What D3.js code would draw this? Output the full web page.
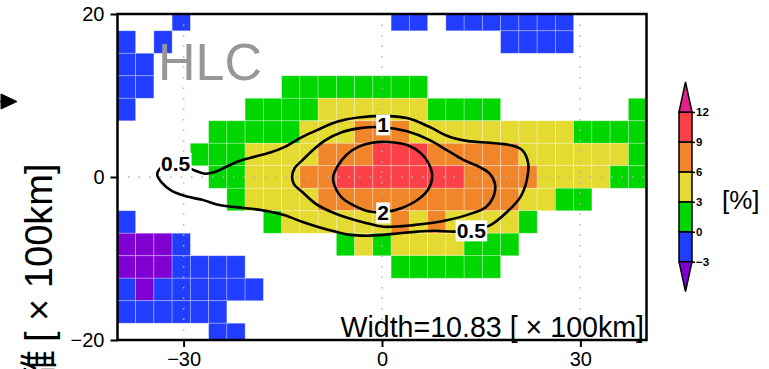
<!DOCTYPE html>
<meta charset="utf-8">
<script src="https://d3js.org/d3.v7.min.js"></script>
<style>
body { margin: 0; background: #fff; }
svg { display: block; font-family: Arial, "Liberation Sans", sans-serif; }
.axis text { font-size: 20px; fill: #000; }
.cbar text { font-size: 11.5px; font-weight: bold; fill: #000; }
</style>
<body>
<script>
var _ = null;

// grid cells are centred on multiples of cellSize (x100 km)
var cellSize = 2.76;
var colIndex = d3.range(-14, 15);      // west -> east
var rowIndex = d3.range(7, -8, -1);    // north -> south

// anomaly [%] per cell, rows top to bottom, columns left to right
var row7  = [_, _, _, -1.5, _,   _, _, _, _, _,   _, _, _, _, _,   -1.5, -1.5, _, -1.5, -1.5,   -1.5, -1.5, -1.5, -1.5, -1.5,   _, _, _, _];
var row6  = [-1.5, _, -1.5, _, _,   _, _, _, _, _,   _, _, _, _, _,   _, _, _, _, _,   _, -1.5, -1.5, -1.5, -1.5,   _, _, _, _];
var row5  = [-1.5, -1.5, _, _, _,   _, _, _, _, _,   _, _, _, _, _,   _, _, _, _, _,   _, _, _, _, _,   _, _, _, _];
var row4  = [-1.5, -1.5, _, _, _,   _, _, _, _, 1.5,   1.5, 1.5, 1.5, 1.5, 1.5,   1.5, 1.5, _, _, _,   _, _, _, _, _,   _, _, _, _];
var row3  = [-1.5, _, _, _, _,   _, _, 1.5, 1.5, 1.5,   1.5, 4.5, 4.5, 4.5, 4.5,   4.5, 4.5, 1.5, 1.5, 1.5,   1.5, _, _, _, _,   _, _, _, 1.5];
var row2  = [_, _, _, _, _,   1.5, 1.5, 1.5, 1.5, 1.5,   4.5, 4.5, 4.5, 7.5, 7.5,   7.5, 4.5, 4.5, 4.5, 4.5,   4.5, 4.5, 4.5, 4.5, 4.5,   1.5, 1.5, 1.5, 1.5];
var row1  = [_, _, _, _, 1.5,   1.5, 1.5, 4.5, 4.5, 4.5,   4.5, 7.5, 7.5, 7.5, 10.5,   10.5, 10.5, 7.5, 7.5, 7.5,   7.5, 7.5, 4.5, 4.5, 4.5,   4.5, 4.5, 4.5, 1.5];
var row0  = [_, _, _, _, _,   1.5, 1.5, 4.5, 4.5, 4.5,   7.5, 7.5, 10.5, 10.5, 10.5,   10.5, 10.5, 10.5, 10.5, 7.5,   7.5, 7.5, 7.5, 4.5, 4.5,   4.5, 4.5, 1.5, 1.5];
var rowM1 = [_, _, _, _, _,   _, 1.5, 4.5, 4.5, 4.5,   4.5, 7.5, 7.5, 7.5, 7.5,   7.5, 7.5, 7.5, 7.5, 7.5,   7.5, 7.5, 4.5, 4.5, 1.5,   1.5, _, _, _];
var rowM2 = [-1.5, _, _, _, _,   _, _, _, 1.5, 4.5,   4.5, 4.5, 4.5, 4.5, 4.5,   7.5, 4.5, 7.5, 4.5, 4.5,   4.5, 4.5, 1.5, _, _,   _, _, _, _];
var rowM3 = [-4, -4, -4, -1.5, _,   _, _, _, _, _,   _, _, 1.5, 4.5, 1.5,   4.5, 4.5, 4.5, 4.5, 1.5,   1.5, 1.5, _, _, _,   _, _, _, _];
var rowM4 = [-4, -4, -4, -1.5, -1.5,   -1.5, -1.5, _, _, _,   _, _, _, _, _,   1.5, 1.5, 1.5, 1.5, 1.5,   1.5, _, _, _, _,   _, _, _, _];
var rowM5 = [-1.5, -4, -1.5, -1.5, -1.5,   -1.5, -1.5, -1.5, _, _,   _, _, _, _, _,   _, _, _, _, _,   _, _, _, _, _,   _, _, _, _];
var rowM6 = [-1.5, -1.5, -1.5, -1.5, -1.5,   -1.5, _, _, _, _,   _, _, _, _, _,   _, _, _, _, _,   _, _, _, _, _,   _, _, _, _];
var rowM7 = [_, _, _, _, _,   -1.5, -1.5, _, _, _,   _, _, _, _, _,   _, _, _, _, _,   _, _, _, _, _,   _, _, _, _];
var grid = [row7, row6, row5, row4, row3, row2, row1, row0, rowM1, rowM2, rowM3, rowM4, rowM5, rowM6, rowM7];

// shading levels and colours
var levels = [-3, 0, 3, 6, 9, 12];
var levelColors = ["#8000d4", "#213dff", "#00d600", "#e4da32", "#f0852a", "#fb4147", "#e4208c"];

var xTicks = [-30, 0, 30];
var yTicks = [-20, 0, 20];

// contour lines, [x, y] in x100 km
var c05 = [[-34.0,0.3],[-33.6,1.0],[-32.1,1.5],[-29.8,1.3],[-28.3,0.8],[-26.8,0.4],[-25.3,0.6],[-23.7,1.2],
  [-21.5,2.0],[-19.2,2.5],[-16.9,3.0],[-14.7,3.7],[-12.1,4.9],[-9.7,5.8],[-6.7,6.8],[-3.6,7.3],[0,7.5],
  [3.9,7.2],[7.3,6.1],[10.0,5.0],[13.0,4.4],[16.3,4.2],[19.4,3.9],[21.2,3.3],[22.1,1.7],[21.9,-0.4],
  [20.9,-2.5],[18.9,-4.3],[16.6,-5.8],[14.1,-6.5],[11.0,-6.7],[8.0,-6.6],[5.4,-6.7],[2.7,-6.9],[0.2,-7.1],
  [-2.4,-7.2],[-4.8,-7.1],[-7.1,-6.7],[-9.4,-6.2],[-12.1,-5.5],[-14.7,-4.7],[-17.2,-4.2],[-19.7,-3.9],
  [-22.2,-3.7],[-24.8,-3.4],[-27.2,-2.8],[-29.5,-2.4],[-31.8,-1.7],[-33.3,-0.7]];
var c1 = [[-13.6,0],[-13.2,1.1],[-12.1,2.0],[-10.6,3.2],[-8.6,4.5],[-6.1,5.5],[-3.3,6.0],[0.2,6.1],[3.8,5.6],
  [7.3,4.5],[9.8,3.3],[12.3,2.1],[14.8,1.2],[16.3,0.4],[17.1,-0.9],[16.8,-2.5],[15.7,-3.7],[13.8,-4.4],
  [9.8,-5.3],[4.7,-5.9],[0.2,-6.1],[-2.6,-5.6],[-5.6,-4.9],[-7.9,-4.2],[-10.0,-3.3],[-12.1,-1.8],[-13.3,-0.9]];
var c2 = [[-7.4,-0.1],[-6.8,1.2],[-5.4,2.7],[-3.6,3.7],[-1.5,4.2],[0.9,4.3],[3.9,3.9],[5.9,2.9],[7.1,1.6],
  [7.6,0],[7.0,-1.5],[5.4,-2.8],[3.0,-3.8],[0.5,-4.3],[-2.1,-4.2],[-4.5,-3.4],[-6.1,-2.5],[-7.0,-1.4]];
var contourLabels = [
  {text: "0.5", x: -31.2, y: 1.7},
  {text: "1",   x: 0.15,  y: 6.4},
  {text: "2",   x: 0.15,  y: -4.4},
  {text: "0.5", x: 13.5,  y: -6.6}
];

var width = 769, height = 369;
var svg = d3.select("body").append("svg").attr("width", width).attr("height", height);

var x = d3.scaleLinear().domain([-40, 40]).range([117.5, 646.5]);
var y = d3.scaleLinear().domain([-20, 20]).range([340, 14]);
var color = d3.scaleThreshold().domain(levels).range(levelColors);

svg.append("clipPath").attr("id", "plotclip")
  .append("rect")
  .attr("x", x(-40)).attr("y", y(20))
  .attr("width", x(40) - x(-40)).attr("height", y(-20) - y(20));

// cells
var cells = [];
grid.forEach(function(row, r) {
  row.forEach(function(v, c) {
    if (v !== null) cells.push({xc: colIndex[c] * cellSize, yc: rowIndex[r] * cellSize, value: v});
  });
});

svg.append("g").attr("clip-path", "url(#plotclip)")
  .selectAll("rect").data(cells).enter().append("rect")
  .attr("x", function(d) { return x(d.xc - cellSize / 2); })
  .attr("y", function(d) { return y(d.yc + cellSize / 2); })
  .attr("width", function(d) { return x(d.xc + cellSize / 2) - x(d.xc - cellSize / 2); })
  .attr("height", function(d) { return y(d.yc - cellSize / 2) - y(d.yc + cellSize / 2); })
  .attr("fill", function(d) { return color(d.value); })
  .attr("stroke", "rgba(255,255,255,0.35)")
  .attr("stroke-width", 0.8);

// dotted reference lines
var grd = svg.append("g").attr("stroke", "#b4b4b4").attr("stroke-width", 1.5).attr("stroke-dasharray", "1.5,9");
grd.selectAll(".vx").data(xTicks).enter().append("line")
  .attr("x1", function(d) { return x(d); }).attr("x2", function(d) { return x(d); })
  .attr("y1", y(20)).attr("y2", y(-20));
grd.append("line").attr("x1", x(-40)).attr("x2", x(40)).attr("y1", y(0)).attr("y2", y(0));

// contours
var line = d3.line()
  .x(function(d) { return x(d[0]); })
  .y(function(d) { return y(d[1]); })
  .curve(d3.curveCatmullRomClosed.alpha(0.5));

svg.append("g").selectAll("path").data([c05, c1, c2]).enter().append("path")
  .attr("d", line)
  .attr("fill", "none")
  .attr("stroke", "#000")
  .attr("stroke-width", 2.6);

var lab = svg.append("g").selectAll("g").data(contourLabels).enter().append("g")
  .attr("transform", function(d) { return "translate(" + x(d.x) + "," + y(d.y) + ")"; });
lab.append("text")
  .attr("text-anchor", "middle")
  .attr("dy", "0.36em")
  .style("font-size", "21px")
  .style("font-weight", "bold")
  .text(function(d) { return d.text; });
lab.each(function() {
  var g = d3.select(this);
  var b = g.select("text").node().getBBox();
  g.insert("rect", "text")
    .attr("x", b.x - 1).attr("y", b.y + 1)
    .attr("width", b.width + 2).attr("height", b.height - 2)
    .attr("fill", "#fff");
});

// frame
svg.append("rect")
  .attr("x", x(-40)).attr("y", y(20))
  .attr("width", x(40) - x(-40)).attr("height", y(-20) - y(20))
  .attr("fill", "none").attr("stroke", "#000").attr("stroke-width", 2.5);

// axes
var gx = svg.append("g").attr("class", "axis")
  .attr("transform", "translate(0," + y(-20) + ")")
  .call(d3.axisBottom(x).tickValues(xTicks).tickSize(7).tickPadding(5));
gx.select(".domain").remove();
gx.selectAll("line").attr("stroke-width", 2);

var gy = svg.append("g").attr("class", "axis")
  .attr("transform", "translate(" + x(-40) + ",0)")
  .call(d3.axisLeft(y).tickValues(yTicks).tickSize(7).tickPadding(6));
gy.select(".domain").remove();
gy.selectAll("line").attr("stroke-width", 2);

// annotations
svg.append("text")
  .attr("x", 158).attr("y", 80)
  .style("font-size", "52px").attr("fill", "#979797")
  .text("HLC");

svg.append("text")
  .attr("x", 644).attr("y", 336.5)
  .attr("text-anchor", "end")
  .style("font-size", "28.6px")
  .text("Width=10.83 [ × 100km]");

var ylab = svg.append("g").attr("transform", "translate(52,342) rotate(-90)");
ylab.append("text").style("font-size", "38px").text("[ × 100km]");
ylab.append("text").attr("x", -8).attr("text-anchor", "end")
  .style("font-size", "38px").style("font-family", "'Noto Sans CJK JP', sans-serif")
  .text("南北距離");

// arrow head at left edge
svg.append("path").attr("d", "M0,101.5L4,101.5M1,94L17,101.5L1,109Z").attr("fill", "#000").attr("stroke", "#000").attr("stroke-width", 1);

// colour bar
var cbX = 679, cbW = 13;
var cb = d3.scaleLinear().domain([-3, 12]).range([261.7, 112]);
var bins = d3.range(levels.length - 1).map(function(i) { return [levels[i], levels[i + 1]]; });
var cbar = svg.append("g").attr("class", "cbar");
cbar.selectAll("rect").data(bins).enter().append("rect")
  .attr("x", cbX).attr("width", cbW)
  .attr("y", function(d) { return cb(d[1]); })
  .attr("height", function(d) { return cb(d[0]) - cb(d[1]); })
  .attr("fill", function(d) { return color(d[0]); })
  .attr("stroke", "#000").attr("stroke-width", 1.5);
var tri = cb(12) - 30, triB = cb(-3) + 30;
cbar.append("path")
  .attr("d", "M" + cbX + "," + cb(12) + "L" + (cbX + cbW / 2) + "," + tri + "L" + (cbX + cbW) + "," + cb(12) + "Z")
  .attr("fill", color(13)).attr("stroke", "#000").attr("stroke-width", 1.5);
cbar.append("path")
  .attr("d", "M" + cbX + "," + cb(-3) + "L" + (cbX + cbW / 2) + "," + triB + "L" + (cbX + cbW) + "," + cb(-3) + "Z")
  .attr("fill", color(-4)).attr("stroke", "#000").attr("stroke-width", 1.5);
var cbAxis = cbar.append("g").attr("transform", "translate(" + (cbX + cbW) + ",0)")
  .call(d3.axisRight(cb).tickValues(levels).tickSize(3).tickPadding(1));
cbAxis.select(".domain").remove();
cbAxis.selectAll("line").attr("stroke-width", 1.5);

svg.append("text").attr("x", 722).attr("y", 209).style("font-size", "26px").text("[%]");

// sanity check on the grid size
grid.forEach(function(row, r) {
  if (row.length !== colIndex.length) {
    svg.append("text").attr("x", 10).attr("y", 20 + r * 14).attr("fill", "red").text("row " + r + " len " + row.length);
  }
});
</script>
</body>
</html>
